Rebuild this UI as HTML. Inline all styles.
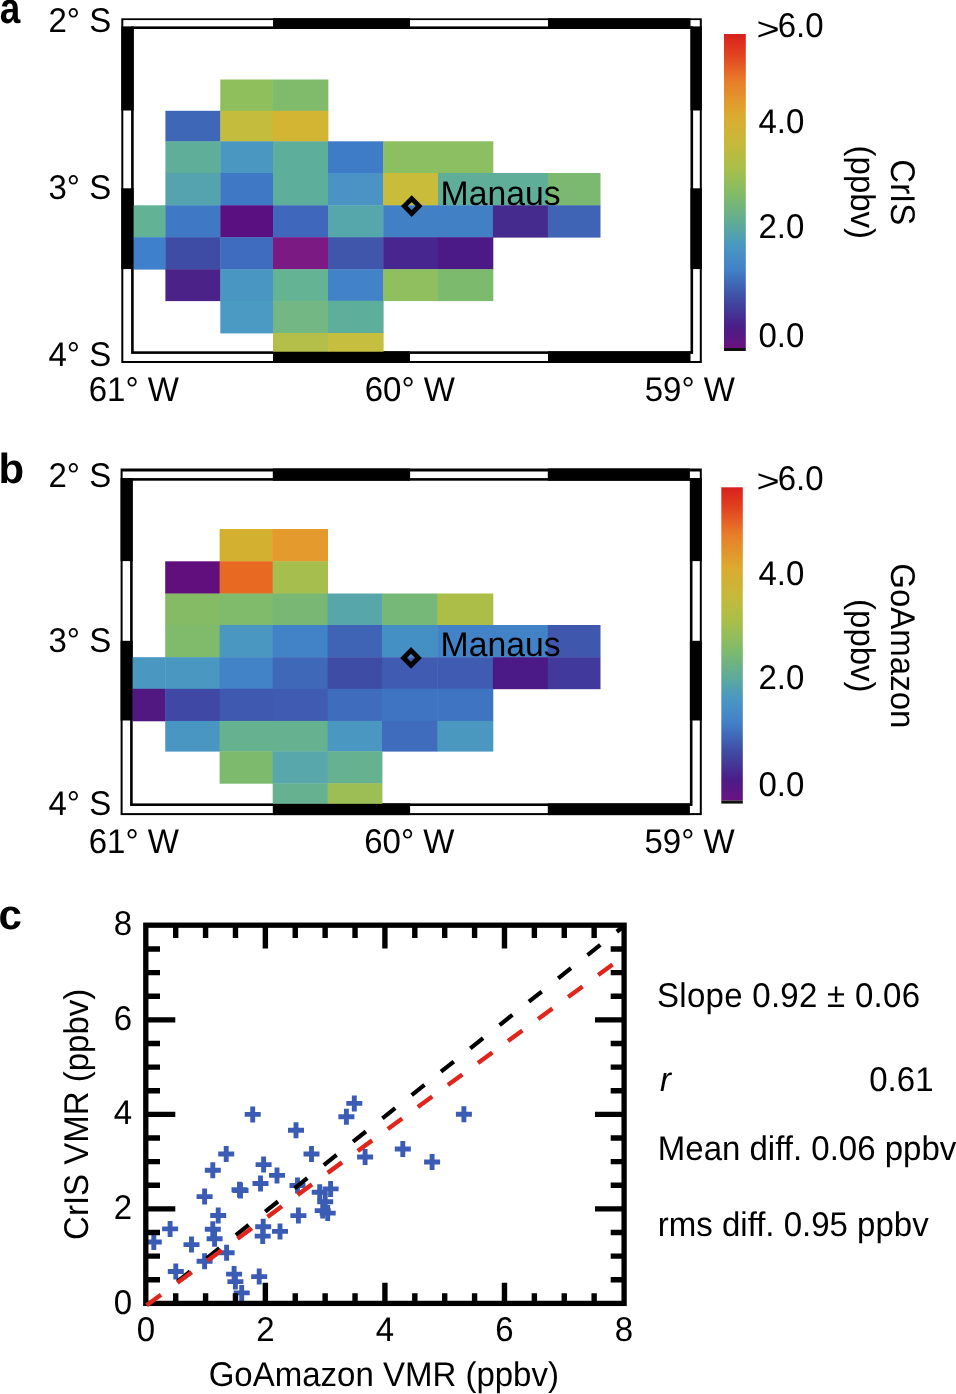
<!DOCTYPE html>
<html><head><meta charset="utf-8"><title>Figure</title>
<style>
html,body{margin:0;padding:0;background:#fff;}
body{width:956px;height:1394px;overflow:hidden;}
svg{display:block;will-change:transform;font-family:"Liberation Sans", sans-serif;}
</style></head>
<body><svg width="956" height="1394" viewBox="0 0 956 1394" text-rendering="geometricPrecision">
<rect x="0" y="0" width="956" height="1394" fill="#fff"/><text transform="translate(-0.3,22.8) scale(0.88,1.04)" font-size="42" font-weight="bold">a</text><rect x="121.30" y="18.30" width="580.50" height="344.70" fill="#000"/><rect x="123.30" y="20.10" width="576.50" height="340.90" fill="#fff"/><rect x="131.10" y="26.40" width="562.00" height="327.50" fill="#000"/><rect x="133.70" y="29.00" width="556.80" height="322.30" fill="#fff"/><rect x="273.00" y="18.30" width="137.00" height="10.70" fill="#000"/><rect x="273.00" y="351.30" width="137.00" height="11.70" fill="#000"/><rect x="548.00" y="18.30" width="142.50" height="10.70" fill="#000"/><rect x="548.00" y="351.30" width="142.50" height="11.70" fill="#000"/><rect x="121.30" y="26.40" width="12.40" height="84.10" fill="#000"/><rect x="690.50" y="26.40" width="11.30" height="84.10" fill="#000"/><rect x="121.30" y="188.30" width="12.40" height="80.80" fill="#000"/><rect x="690.50" y="188.30" width="11.30" height="80.80" fill="#000"/><rect x="220.30" y="79.50" width="53.10" height="31.70" fill="#8fbe5c"/><rect x="273.00" y="79.50" width="55.40" height="31.70" fill="#80bb6c"/><rect x="165.40" y="110.80" width="55.30" height="30.90" fill="#3f67b8"/><rect x="220.30" y="110.80" width="53.10" height="30.90" fill="#c4bc3c"/><rect x="273.00" y="110.80" width="55.40" height="30.90" fill="#d4b433"/><rect x="165.40" y="141.30" width="55.30" height="32.10" fill="#5fae9a"/><rect x="220.30" y="141.30" width="53.10" height="32.10" fill="#4a98c2"/><rect x="273.00" y="141.30" width="55.40" height="32.10" fill="#5eae9c"/><rect x="328.00" y="141.30" width="55.60" height="32.10" fill="#3f7cc7"/><rect x="383.20" y="141.30" width="55.20" height="32.10" fill="#8cbe62"/><rect x="438.00" y="141.30" width="55.30" height="32.10" fill="#8cbe62"/><rect x="165.40" y="173.00" width="55.30" height="32.70" fill="#55a3ae"/><rect x="220.30" y="173.00" width="53.10" height="32.70" fill="#3f78c4"/><rect x="273.00" y="173.00" width="55.40" height="32.70" fill="#5eae9c"/><rect x="328.00" y="173.00" width="55.60" height="32.70" fill="#4a93c4"/><rect x="383.20" y="173.00" width="55.20" height="32.70" fill="#c9bc3a"/><rect x="438.00" y="173.00" width="55.30" height="32.70" fill="#5fae9a"/><rect x="492.90" y="173.00" width="55.30" height="32.70" fill="#5fae9a"/><rect x="547.80" y="173.00" width="52.70" height="32.70" fill="#7bb870"/><rect x="133.70" y="205.30" width="32.10" height="32.30" fill="#62b395"/><rect x="165.40" y="205.30" width="55.30" height="32.30" fill="#3f78c4"/><rect x="220.30" y="205.30" width="53.10" height="32.30" fill="#5a1080"/><rect x="273.00" y="205.30" width="55.40" height="32.30" fill="#3f68bc"/><rect x="328.00" y="205.30" width="55.60" height="32.30" fill="#55a7ab"/><rect x="383.20" y="205.30" width="55.20" height="32.30" fill="#4280c6"/><rect x="438.00" y="205.30" width="55.30" height="32.30" fill="#4280c6"/><rect x="492.90" y="205.30" width="55.30" height="32.30" fill="#452b8e"/><rect x="547.80" y="205.30" width="52.70" height="32.30" fill="#3f64b6"/><rect x="133.70" y="237.20" width="32.10" height="32.40" fill="#3f80cc"/><rect x="165.40" y="237.20" width="55.30" height="32.40" fill="#3f4ca6"/><rect x="220.30" y="237.20" width="53.10" height="32.40" fill="#3f6cbf"/><rect x="273.00" y="237.20" width="55.40" height="32.40" fill="#7a1a82"/><rect x="328.00" y="237.20" width="55.60" height="32.40" fill="#3f56aa"/><rect x="383.20" y="237.20" width="55.20" height="32.40" fill="#482690"/><rect x="438.00" y="237.20" width="55.30" height="32.40" fill="#4c1a86"/><rect x="165.40" y="269.20" width="55.30" height="31.90" fill="#4a2288"/><rect x="220.30" y="269.20" width="53.10" height="31.90" fill="#4a96c2"/><rect x="273.00" y="269.20" width="55.40" height="31.90" fill="#64b394"/><rect x="328.00" y="269.20" width="55.60" height="31.90" fill="#4282c8"/><rect x="383.20" y="269.20" width="55.20" height="31.90" fill="#90bf5f"/><rect x="438.00" y="269.20" width="55.30" height="31.90" fill="#7cba6e"/><rect x="220.30" y="300.70" width="53.10" height="32.70" fill="#4a9ac3"/><rect x="273.00" y="300.70" width="55.40" height="32.70" fill="#72b784"/><rect x="328.00" y="300.70" width="55.60" height="32.70" fill="#5eae9c"/><rect x="273.00" y="333.00" width="55.40" height="18.70" fill="#b4bf4a"/><rect x="328.00" y="333.00" width="55.60" height="18.70" fill="#c6be3e"/><path d="M404.30 206.10L411.70 198.70L419.10 206.10L411.70 213.50Z" fill="none" stroke="#000" stroke-width="4.8" stroke-linejoin="miter"/><text transform="translate(440.60,204.70) scale(1,1.04)" font-size="33" textLength="120.1" lengthAdjust="spacingAndGlyphs">Manaus</text><defs><linearGradient id="cba" x1="0" y1="0" x2="0" y2="1"><stop offset="0.000" stop-color="#d8201e"/><stop offset="0.065" stop-color="#e2421f"/><stop offset="0.153" stop-color="#e87e2a"/><stop offset="0.255" stop-color="#dcaa2e"/><stop offset="0.342" stop-color="#c8b83a"/><stop offset="0.430" stop-color="#a8bf4a"/><stop offset="0.516" stop-color="#80bb6a"/><stop offset="0.611" stop-color="#5ca99c"/><stop offset="0.672" stop-color="#4a98c2"/><stop offset="0.752" stop-color="#4280c8"/><stop offset="0.838" stop-color="#3f4fa6"/><stop offset="0.933" stop-color="#4a1d88"/><stop offset="1.000" stop-color="#6a1280"/></linearGradient></defs><rect x="724.0" y="34.0" width="21.799999999999955" height="314.0" fill="url(#cba)"/><rect x="724.00" y="348.00" width="21.80" height="3.00" fill="#111"/><text transform="translate(756.6,39.50) scale(1.2,0.98)" font-size="33">&gt;</text><text transform="translate(777.77,37.30) scale(1,1.04)" font-size="33">6.0</text><text transform="translate(758.50,133.30) scale(1,1.04)" font-size="33">4.0</text><text transform="translate(758.50,238.00) scale(1,1.04)" font-size="33">2.0</text><text transform="translate(758.50,347.40) scale(1,1.04)" font-size="33">0.0</text><text transform="translate(890.6,192.3) rotate(90) scale(1,1.04)" font-size="33" text-anchor="middle"><tspan x="0" dy="0.00">CrIS</tspan><tspan x="0" dy="38.17">(ppbv)</tspan></text><text transform="translate(111.20,32.00) scale(1,1.04)" font-size="33" text-anchor="end">2° S</text><text transform="translate(111.20,199.20) scale(1,1.04)" font-size="33" text-anchor="end">3° S</text><text transform="translate(111.20,366.20) scale(1,1.04)" font-size="33" text-anchor="end">4° S</text><text transform="translate(133.80,400.80) scale(1,1.04)" font-size="33" text-anchor="middle">61° W</text><text transform="translate(409.80,400.80) scale(1,1.04)" font-size="33" text-anchor="middle">60° W</text><text transform="translate(689.80,400.80) scale(1,1.04)" font-size="33" text-anchor="middle">59° W</text><text x="-1.60" y="483.00" font-size="42" font-weight="bold">b</text><rect x="120.60" y="468.50" width="581.20" height="346.60" fill="#000"/><rect x="122.60" y="471.50" width="577.20" height="341.60" fill="#fff"/><rect x="130.10" y="478.10" width="562.40" height="327.90" fill="#000"/><rect x="132.70" y="480.70" width="557.20" height="322.70" fill="#fff"/><rect x="272.80" y="468.50" width="137.30" height="12.20" fill="#000"/><rect x="272.80" y="803.40" width="137.30" height="11.70" fill="#000"/><rect x="547.80" y="468.50" width="142.10" height="12.20" fill="#000"/><rect x="547.80" y="803.40" width="142.10" height="11.70" fill="#000"/><rect x="120.60" y="478.00" width="12.10" height="83.10" fill="#000"/><rect x="689.90" y="478.00" width="11.90" height="83.10" fill="#000"/><rect x="120.60" y="640.80" width="12.10" height="79.70" fill="#000"/><rect x="689.90" y="640.80" width="11.90" height="79.70" fill="#000"/><rect x="219.60" y="529.00" width="53.50" height="32.70" fill="#d4b030"/><rect x="272.70" y="529.00" width="55.30" height="32.70" fill="#e49a2c"/><rect x="165.20" y="561.30" width="54.80" height="32.60" fill="#600f7c"/><rect x="219.60" y="561.30" width="53.50" height="32.60" fill="#e86a22"/><rect x="272.70" y="561.30" width="55.30" height="32.60" fill="#a6be4e"/><rect x="165.20" y="593.50" width="54.80" height="31.90" fill="#86bb66"/><rect x="219.60" y="593.50" width="53.50" height="31.90" fill="#80bb6c"/><rect x="272.70" y="593.50" width="55.30" height="31.90" fill="#78b874"/><rect x="327.60" y="593.50" width="54.80" height="31.90" fill="#56a6aa"/><rect x="382.00" y="593.50" width="55.90" height="31.90" fill="#76b878"/><rect x="437.50" y="593.50" width="55.80" height="31.90" fill="#acbe48"/><rect x="165.20" y="625.00" width="54.80" height="32.60" fill="#80bb6c"/><rect x="219.60" y="625.00" width="53.50" height="32.60" fill="#4a98c2"/><rect x="272.70" y="625.00" width="55.30" height="32.60" fill="#4282c6"/><rect x="327.60" y="625.00" width="54.80" height="32.60" fill="#3f64b6"/><rect x="382.00" y="625.00" width="55.90" height="32.60" fill="#4490c4"/><rect x="437.50" y="625.00" width="55.80" height="32.60" fill="#4282c6"/><rect x="492.90" y="625.00" width="55.30" height="32.60" fill="#4282c6"/><rect x="547.80" y="625.00" width="52.70" height="32.60" fill="#3f58ae"/><rect x="132.70" y="657.20" width="32.90" height="32.00" fill="#4a98c2"/><rect x="165.20" y="657.20" width="54.80" height="32.00" fill="#4a98c2"/><rect x="219.60" y="657.20" width="53.50" height="32.00" fill="#4282c6"/><rect x="272.70" y="657.20" width="55.30" height="32.00" fill="#3f68b8"/><rect x="327.60" y="657.20" width="54.80" height="32.00" fill="#3f4ca6"/><rect x="382.00" y="657.20" width="55.90" height="32.00" fill="#3f5cb2"/><rect x="437.50" y="657.20" width="55.80" height="32.00" fill="#3f5cb2"/><rect x="492.90" y="657.20" width="55.30" height="32.00" fill="#4c1a86"/><rect x="547.80" y="657.20" width="52.70" height="32.00" fill="#413a9c"/><rect x="132.70" y="688.80" width="32.90" height="32.50" fill="#521882"/><rect x="165.20" y="688.80" width="54.80" height="32.50" fill="#3f48a4"/><rect x="219.60" y="688.80" width="53.50" height="32.50" fill="#3f58b0"/><rect x="272.70" y="688.80" width="55.30" height="32.50" fill="#3f5cb2"/><rect x="327.60" y="688.80" width="54.80" height="32.50" fill="#3f6cbc"/><rect x="382.00" y="688.80" width="55.90" height="32.50" fill="#3f74c2"/><rect x="437.50" y="688.80" width="55.80" height="32.50" fill="#3f74c2"/><rect x="165.20" y="720.90" width="54.80" height="30.70" fill="#4a96c2"/><rect x="219.60" y="720.90" width="53.50" height="30.70" fill="#66b290"/><rect x="272.70" y="720.90" width="55.30" height="30.70" fill="#66b290"/><rect x="327.60" y="720.90" width="54.80" height="30.70" fill="#4a98c2"/><rect x="382.00" y="720.90" width="55.90" height="30.70" fill="#3f6cbc"/><rect x="437.50" y="720.90" width="55.80" height="30.70" fill="#4a98bf"/><rect x="219.60" y="751.20" width="53.50" height="32.50" fill="#7eba6e"/><rect x="272.70" y="751.20" width="55.30" height="32.50" fill="#58a7aa"/><rect x="327.60" y="751.20" width="54.80" height="32.50" fill="#66b290"/><rect x="272.70" y="783.30" width="55.30" height="20.50" fill="#66b290"/><rect x="327.60" y="783.30" width="54.80" height="20.50" fill="#9cbe54"/><path d="M403.60 657.90L411.00 650.50L418.40 657.90L411.00 665.30Z" fill="none" stroke="#000" stroke-width="4.8" stroke-linejoin="miter"/><text transform="translate(440.60,656.00) scale(1,1.04)" font-size="33" textLength="120.1" lengthAdjust="spacingAndGlyphs">Manaus</text><defs><linearGradient id="cbb" x1="0" y1="0" x2="0" y2="1"><stop offset="0.000" stop-color="#d8201e"/><stop offset="0.065" stop-color="#e2421f"/><stop offset="0.153" stop-color="#e87e2a"/><stop offset="0.255" stop-color="#dcaa2e"/><stop offset="0.342" stop-color="#c8b83a"/><stop offset="0.430" stop-color="#a8bf4a"/><stop offset="0.516" stop-color="#80bb6a"/><stop offset="0.611" stop-color="#5ca99c"/><stop offset="0.672" stop-color="#4a98c2"/><stop offset="0.752" stop-color="#4280c8"/><stop offset="0.838" stop-color="#3f4fa6"/><stop offset="0.933" stop-color="#4a1d88"/><stop offset="1.000" stop-color="#6a1280"/></linearGradient></defs><rect x="721.3" y="487.3" width="21.5" height="313.3" fill="url(#cbb)"/><rect x="721.30" y="800.60" width="21.50" height="3.00" fill="#111"/><text transform="translate(756.6,491.70) scale(1.2,0.98)" font-size="33">&gt;</text><text transform="translate(777.77,489.50) scale(1,1.04)" font-size="33">6.0</text><text transform="translate(758.50,585.00) scale(1,1.04)" font-size="33">4.0</text><text transform="translate(758.50,688.50) scale(1,1.04)" font-size="33">2.0</text><text transform="translate(758.50,796.20) scale(1,1.04)" font-size="33">0.0</text><text transform="translate(890.6,645.8) rotate(90) scale(1,1.04)" font-size="33" text-anchor="middle"><tspan x="0" dy="0.00">GoAmazon</tspan><tspan x="0" dy="38.17">(ppbv)</tspan></text><text transform="translate(111.20,487.00) scale(1,1.04)" font-size="33" text-anchor="end">2° S</text><text transform="translate(111.20,652.20) scale(1,1.04)" font-size="33" text-anchor="end">3° S</text><text transform="translate(111.20,814.60) scale(1,1.04)" font-size="33" text-anchor="end">4° S</text><text transform="translate(133.80,853.20) scale(1,1.04)" font-size="33" text-anchor="middle">61° W</text><text transform="translate(409.30,853.20) scale(1,1.04)" font-size="33" text-anchor="middle">60° W</text><text transform="translate(689.60,853.20) scale(1,1.04)" font-size="33" text-anchor="middle">59° W</text><text x="-1.60" y="928.80" font-size="42" font-weight="bold">c</text><path d="M145.80 1242.00H161.80M153.80 1234.00V1250.00" stroke="#3a5cb4" stroke-width="4.9"/><path d="M162.10 1228.90H178.10M170.10 1220.90V1236.90" stroke="#3a5cb4" stroke-width="4.9"/><path d="M167.80 1271.50H183.80M175.80 1263.50V1279.50" stroke="#3a5cb4" stroke-width="4.9"/><path d="M183.50 1244.60H199.50M191.50 1236.60V1252.60" stroke="#3a5cb4" stroke-width="4.9"/><path d="M196.60 1196.60H212.60M204.60 1188.60V1204.60" stroke="#3a5cb4" stroke-width="4.9"/><path d="M196.60 1261.20H212.60M204.60 1253.20V1269.20" stroke="#3a5cb4" stroke-width="4.9"/><path d="M204.80 1170.30H220.80M212.80 1162.30V1178.30" stroke="#3a5cb4" stroke-width="4.9"/><path d="M204.80 1229.30H220.80M212.80 1221.30V1237.30" stroke="#3a5cb4" stroke-width="4.9"/><path d="M206.60 1238.70H222.60M214.60 1230.70V1246.70" stroke="#3a5cb4" stroke-width="4.9"/><path d="M210.20 1215.50H226.20M218.20 1207.50V1223.50" stroke="#3a5cb4" stroke-width="4.9"/><path d="M218.20 1154.00H234.20M226.20 1146.00V1162.00" stroke="#3a5cb4" stroke-width="4.9"/><path d="M218.60 1252.80H234.60M226.60 1244.80V1260.80" stroke="#3a5cb4" stroke-width="4.9"/><path d="M226.10 1274.10H242.10M234.10 1266.10V1282.10" stroke="#3a5cb4" stroke-width="4.9"/><path d="M227.40 1281.60H243.40M235.40 1273.60V1289.60" stroke="#3a5cb4" stroke-width="4.9"/><path d="M231.50 1189.70H247.50M239.50 1181.70V1197.70" stroke="#3a5cb4" stroke-width="4.9"/><path d="M232.50 1190.50H248.50M240.50 1182.50V1198.50" stroke="#3a5cb4" stroke-width="4.9"/><path d="M233.70 1292.90H249.70M241.70 1284.90V1300.90" stroke="#3a5cb4" stroke-width="4.9"/><path d="M244.70 1114.40H260.70M252.70 1106.40V1122.40" stroke="#3a5cb4" stroke-width="4.9"/><path d="M251.20 1276.60H267.20M259.20 1268.60V1284.60" stroke="#3a5cb4" stroke-width="4.9"/><path d="M252.50 1183.50H268.50M260.50 1175.50V1191.50" stroke="#3a5cb4" stroke-width="4.9"/><path d="M255.20 1226.70H271.20M263.20 1218.70V1234.70" stroke="#3a5cb4" stroke-width="4.9"/><path d="M254.70 1236.10H270.70M262.70 1228.10V1244.10" stroke="#3a5cb4" stroke-width="4.9"/><path d="M255.60 1164.60H271.60M263.60 1156.60V1172.60" stroke="#3a5cb4" stroke-width="4.9"/><path d="M269.00 1175.40H285.00M277.00 1167.40V1183.40" stroke="#3a5cb4" stroke-width="4.9"/><path d="M272.00 1231.40H288.00M280.00 1223.40V1239.40" stroke="#3a5cb4" stroke-width="4.9"/><path d="M288.00 1130.30H304.00M296.00 1122.30V1138.30" stroke="#3a5cb4" stroke-width="4.9"/><path d="M289.50 1185.50H305.50M297.50 1177.50V1193.50" stroke="#3a5cb4" stroke-width="4.9"/><path d="M290.40 1215.60H306.40M298.40 1207.60V1223.60" stroke="#3a5cb4" stroke-width="4.9"/><path d="M303.50 1154.00H319.50M311.50 1146.00V1162.00" stroke="#3a5cb4" stroke-width="4.9"/><path d="M311.70 1192.20H327.70M319.70 1184.20V1200.20" stroke="#3a5cb4" stroke-width="4.9"/><path d="M322.60 1188.90H338.60M330.60 1180.90V1196.90" stroke="#3a5cb4" stroke-width="4.9"/><path d="M317.20 1201.80H333.20M325.20 1193.80V1209.80" stroke="#3a5cb4" stroke-width="4.9"/><path d="M314.70 1210.60H330.70M322.70 1202.60V1218.60" stroke="#3a5cb4" stroke-width="4.9"/><path d="M319.70 1213.10H335.70M327.70 1205.10V1221.10" stroke="#3a5cb4" stroke-width="4.9"/><path d="M338.40 1116.80H354.40M346.40 1108.80V1124.80" stroke="#3a5cb4" stroke-width="4.9"/><path d="M346.30 1103.40H362.30M354.30 1095.40V1111.40" stroke="#3a5cb4" stroke-width="4.9"/><path d="M357.10 1157.00H373.10M365.10 1149.00V1165.00" stroke="#3a5cb4" stroke-width="4.9"/><path d="M394.80 1149.00H410.80M402.80 1141.00V1157.00" stroke="#3a5cb4" stroke-width="4.9"/><path d="M424.10 1162.00H440.10M432.10 1154.00V1170.00" stroke="#3a5cb4" stroke-width="4.9"/><path d="M455.90 1114.30H471.90M463.90 1106.30V1122.30" stroke="#3a5cb4" stroke-width="4.9"/><rect x="145.80" y="925.20" width="478.30" height="378.20" fill="none" stroke="#000" stroke-width="5.3"/><path d="M175.69 1303.40V1293.30M175.69 925.20V938.10M145.80 1279.77H160.00M624.10 1279.77H610.70M205.58 1303.40V1293.30M205.58 925.20V938.10M145.80 1256.14H160.00M624.10 1256.14H610.70M235.47 1303.40V1293.30M235.47 925.20V938.10M145.80 1232.51H160.00M624.10 1232.51H610.70M265.36 1303.40V1282.70M265.36 925.20V948.50M145.80 1208.88H175.30M624.10 1208.88H595.00M295.25 1303.40V1293.30M295.25 925.20V938.10M145.80 1185.25H160.00M624.10 1185.25H610.70M325.14 1303.40V1293.30M325.14 925.20V938.10M145.80 1161.62H160.00M624.10 1161.62H610.70M355.03 1303.40V1293.30M355.03 925.20V938.10M145.80 1137.99H160.00M624.10 1137.99H610.70M384.92 1303.40V1282.70M384.92 925.20V948.50M145.80 1114.36H175.30M624.10 1114.36H595.00M414.81 1303.40V1293.30M414.81 925.20V938.10M145.80 1090.73H160.00M624.10 1090.73H610.70M444.70 1303.40V1293.30M444.70 925.20V938.10M145.80 1067.10H160.00M624.10 1067.10H610.70M474.59 1303.40V1293.30M474.59 925.20V938.10M145.80 1043.47H160.00M624.10 1043.47H610.70M504.48 1303.40V1282.70M504.48 925.20V948.50M145.80 1019.84H175.30M624.10 1019.84H595.00M534.37 1303.40V1293.30M534.37 925.20V938.10M145.80 996.21H160.00M624.10 996.21H610.70M564.26 1303.40V1293.30M564.26 925.20V938.10M145.80 972.58H160.00M624.10 972.58H610.70M594.15 1303.40V1293.30M594.15 925.20V938.10M145.80 948.95H160.00M624.10 948.95H610.70" stroke="#000" stroke-width="5.4"/><path d="M177.30 1281.67L190.10 1271.48M206.60 1258.34L219.40 1248.15M235.90 1235.02L248.70 1224.82M265.20 1211.69L278.00 1201.50M294.50 1188.36L307.30 1178.17M323.80 1165.03L336.60 1154.84M353.10 1141.70L365.90 1131.51M382.40 1118.37L395.20 1108.18M411.70 1095.04L424.50 1084.85M441.00 1071.72L453.80 1061.52M470.30 1048.39L483.10 1038.20M499.60 1025.06L512.40 1014.87M528.90 1001.73L541.70 991.54M558.20 978.40L571.00 968.21M587.50 955.07L600.30 944.88M616.80 931.74L624.00 926.01" stroke="#000" stroke-width="4.2" fill="none"/><path d="M146.60 1305.29L161.00 1294.76M177.36 1282.80L191.76 1272.27M207.42 1260.82L221.82 1250.29M237.48 1238.84L251.88 1228.31M267.54 1216.86L281.94 1206.33M297.60 1194.88L312.00 1184.35M327.66 1172.90L342.06 1162.37M357.72 1150.92L372.12 1140.39M387.78 1128.94L402.18 1118.41M417.84 1106.96L432.24 1096.43M447.90 1084.98L462.30 1074.45M477.96 1063.00L492.36 1052.47M508.02 1041.02L522.42 1030.49M538.08 1019.04L552.48 1008.51M568.14 997.06L582.54 986.53M598.20 975.08L612.60 964.55" stroke="#e0261c" stroke-width="4.4" fill="none"/><text transform="translate(145.80,1341.00) scale(1,1.04)" font-size="33" text-anchor="middle">0</text><text transform="translate(132.20,1313.50) scale(1,1.04)" font-size="33" text-anchor="end">0</text><text transform="translate(265.36,1341.00) scale(1,1.04)" font-size="33" text-anchor="middle">2</text><text transform="translate(132.20,1218.98) scale(1,1.04)" font-size="33" text-anchor="end">2</text><text transform="translate(384.92,1341.00) scale(1,1.04)" font-size="33" text-anchor="middle">4</text><text transform="translate(132.20,1124.46) scale(1,1.04)" font-size="33" text-anchor="end">4</text><text transform="translate(504.48,1341.00) scale(1,1.04)" font-size="33" text-anchor="middle">6</text><text transform="translate(132.20,1029.94) scale(1,1.04)" font-size="33" text-anchor="end">6</text><text transform="translate(624.04,1341.00) scale(1,1.04)" font-size="33" text-anchor="middle">8</text><text transform="translate(132.20,935.42) scale(1,1.04)" font-size="33" text-anchor="end">8</text><text transform="translate(383.80,1386.20) scale(1,1.04)" font-size="33" text-anchor="middle">GoAmazon VMR (ppbv)</text><text transform="translate(88.3,1114.3) rotate(-90) scale(1,1.04)" font-size="33" text-anchor="middle">CrIS VMR (ppbv)</text><text transform="translate(657.00,1007.00) scale(1,1.04)" font-size="33" textLength="263.0" lengthAdjust="spacing">Slope 0.92 ± 0.06</text><text transform="translate(660.00,1091.20) scale(1,1.04)" font-size="33" font-style="italic">r</text><text transform="translate(933.50,1090.70) scale(1,1.04)" font-size="33" text-anchor="end">0.61</text><text transform="translate(657.80,1160.00) scale(1,1.04)" font-size="33">Mean diff. 0.06 ppbv</text><text transform="translate(657.80,1236.10) scale(1,1.04)" font-size="33">rms diff. 0.95 ppbv</text>
</svg></body></html>
